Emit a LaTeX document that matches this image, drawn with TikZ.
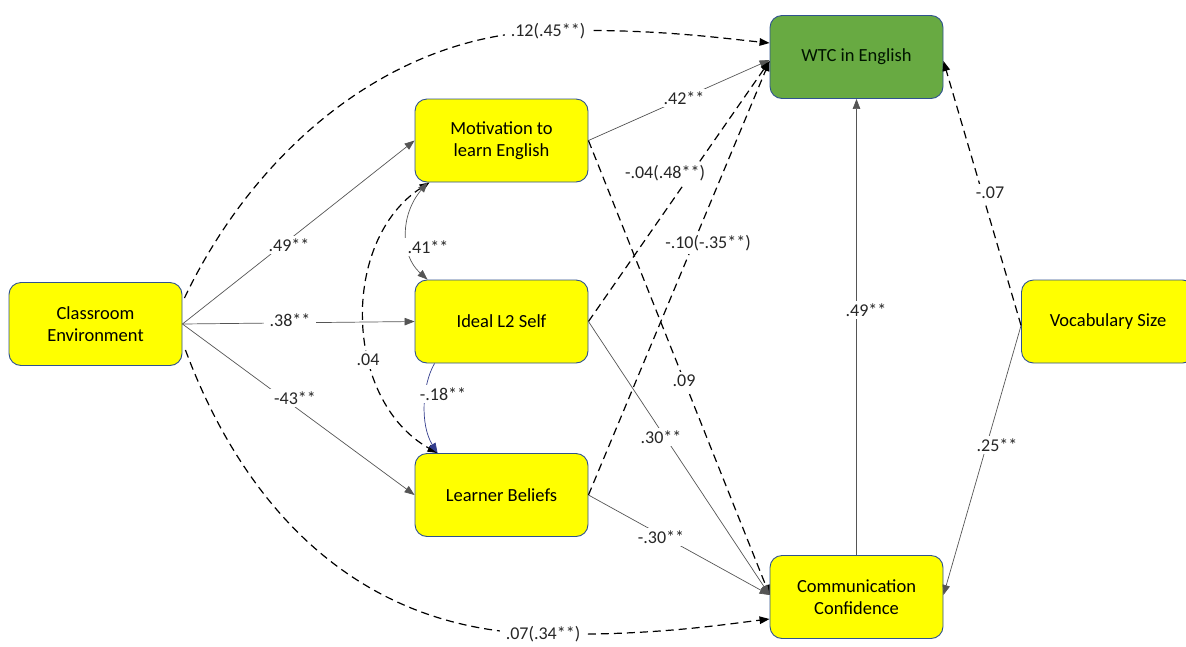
\documentclass[tikz,border=0pt]{standalone}
\usepackage{fontspec}
\setmainfont{Carlito}
\usetikzlibrary{arrows.meta,calc}
\definecolor{boxyellow}{RGB}{255,255,0}
\definecolor{boxedge}{RGB}{47,82,143}
\definecolor{wtcgreen}{RGB}{104,170,66}
\definecolor{solidline}{RGB}{85,85,85}
\definecolor{navyline}{RGB}{50,60,140}
\begin{document}
\begin{tikzpicture}[x=1pt,y=-1pt,
  box/.style={draw=boxedge, line width=0.9pt, fill=boxyellow, rounded corners=12pt,
    minimum width=173pt, minimum height=83pt, align=center,
    font=\fontsize{18.5}{22.5}\selectfont, inner sep=2pt},
  tip/.style={-{Triangle[length=10pt,width=7.5pt]}},
  twotips/.style={{Triangle[length=10pt,width=7.5pt]}-{Triangle[length=10pt,width=7.5pt]}},
  solidarrow/.style={draw=solidline, line width=0.7pt, tip},
  dasharrow/.style={draw=black, line width=1.2pt, dash pattern=on 8pt off 5pt, tip},
  lbl/.style={fill=white, inner ysep=3pt, inner xsep=6pt, font=\fontsize{18}{22}\selectfont, text=black!85}
]
\useasboundingbox (0,0) rectangle (1186,646);

% boxes
\node[box] (ce) at (95.5,324) {Classroom\\Environment};
\node[box] (mot) at (501.5,140.5) {Motivation to\\learn English};
\node[box] (ideal) at (501.5,321.5) {Ideal L2 Self};
\node[box] (lb) at (501.5,495) {Learner Beliefs};
\node[box, fill=wtcgreen, text=black!80!green!40!black] (wtc) at (856.5,57) {WTC in English};
\node[box] (cc) at (856.5,597) {Communication\\Confidence};
\node[box] (vocab) at (1108,321.5) {Vocabulary Size};

% connectors from classroom environment
\draw[solidarrow] (ce.east) -- (mot.west);
\draw[solidarrow] (ce.east) -- (ideal.west);
\draw[solidarrow] (ce.east) -- (lb.west);
\draw[dasharrow] ($(ce.east)+(2,-26)$) .. controls (255,150) and (390,35) .. (548,31)
  .. controls (650,28) and (720,38) .. ($(wtc.west)+(0,-14)$);
\draw[dasharrow] ($(ce.east)+(3,26)$) .. controls (230,470) and (330,630) .. (543,634)
  .. controls (650,636) and (720,625) .. ($(cc.west)+(0,22)$);

% to WTC
\draw[solidarrow] (mot.east) -- ($(wtc.west)+(0,3)$);
\draw[dasharrow] (ideal.east) -- ($(wtc.west)+(0,4)$);
\draw[dasharrow] (lb.east) -- ($(wtc.west)+(0,4)$);
% to communication confidence
\draw[dasharrow] (mot.east) -- ($(cc.west)+(0,-2)$);
\draw[solidarrow] (ideal.east) -- ($(cc.west)+(0,-2)$);
\draw[solidarrow] (lb.east) -- ($(cc.west)+(0,-2)$);
\draw[solidarrow] (cc.north) -- (wtc.south);
% vocabulary
\draw[dasharrow] ($(vocab.west)+(0,4)$) -- ($(wtc.east)+(0,4)$);
\draw[solidarrow] ($(vocab.west)+(0,4)$) -- ($(cc.east)+(0,-2)$);

% curved links between mediators
\draw[dasharrow, twotips] ($(mot.south west)+(15,0)$) .. controls (340,240) and (343,400) .. ($(lb.north west)+(23,0)$);
\draw[solidarrow, twotips] ($(mot.south west)+(13,0)$) .. controls (400,215) and (400,255) .. ($(ideal.north west)+(13,0)$);
\draw[draw=navyline, line width=0.7pt, tip] ($(ideal.south west)+(20,0)$) .. controls (422,385) and (420,425) .. ($(lb.north west)+(23,0)$);

% labels
\node[lbl] (l1) at (548,31) {.12(.45**)};
\node[lbl] (l2) at (543,634) {.07(.34**)};
\node[lbl] (l3) at (289,245) {.49**};
\node[lbl] (l4) at (290,320) {.38**};
\node[lbl] (l5) at (295,398) {-43**};
\node[lbl] (l6) at (428,247) {.41**};
\node[lbl] (l7) at (368,360) {.04};
\node[lbl] (l8) at (443,394) {-.18**};
\node[lbl] (l9) at (684,98) {.42**};
\node[lbl, inner xsep=3pt] (l10) at (665,173) {-.04(.48**)};
\node[lbl] (l11) at (708,243) {-.10(-.35**)};
\node[lbl] (l12) at (684,381) {.09};
\node[lbl] (l13) at (661,437) {.30**};
\node[lbl] (l14) at (661,537) {-.30**};
\node[lbl] (l15) at (866,310) {.49**};
\node[lbl] (l16) at (990,193) {-.07};
\node[lbl] (l17) at (997,445) {.25**};
\end{tikzpicture}
\end{document}
